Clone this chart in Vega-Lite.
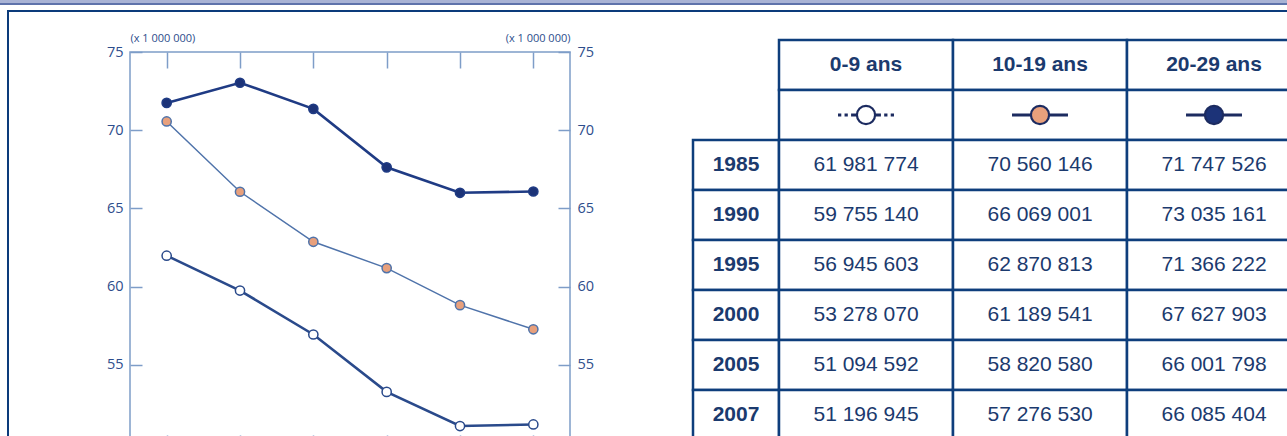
{
  "$schema": "https://vega.github.io/schema/vega-lite/v6.json",
  "padding": 0,
  "background": "#ffffff",
  "datasets": {
    "pop": [
      {"year": "1985", "group": "0-9 ans", "value": 61981774},
      {"year": "1990", "group": "0-9 ans", "value": 59755140},
      {"year": "1995", "group": "0-9 ans", "value": 56945603},
      {"year": "2000", "group": "0-9 ans", "value": 53278070},
      {"year": "2005", "group": "0-9 ans", "value": 51094592},
      {"year": "2007", "group": "0-9 ans", "value": 51196945},
      {"year": "1985", "group": "10-19 ans", "value": 70560146},
      {"year": "1990", "group": "10-19 ans", "value": 66069001},
      {"year": "1995", "group": "10-19 ans", "value": 62870813},
      {"year": "2000", "group": "10-19 ans", "value": 61189541},
      {"year": "2005", "group": "10-19 ans", "value": 58820580},
      {"year": "2007", "group": "10-19 ans", "value": 57276530},
      {"year": "1985", "group": "20-29 ans", "value": 71747526},
      {"year": "1990", "group": "20-29 ans", "value": 73035161},
      {"year": "1995", "group": "20-29 ans", "value": 71366222},
      {"year": "2000", "group": "20-29 ans", "value": 67627903},
      {"year": "2005", "group": "20-29 ans", "value": 66001798},
      {"year": "2007", "group": "20-29 ans", "value": 66085404}
    ],
    "groups": [{"group": "0-9 ans"}, {"group": "10-19 ans"}, {"group": "20-29 ans"}],
    "years": [{"year": "1985"}, {"year": "1990"}, {"year": "1995"}, {"year": "2000"}, {"year": "2005"}, {"year": "2007"}],
    "blank": [{}]
  },
  "bounds": "flush",
  "spacing": 0,
  "vconcat": [
    {"width": 1287, "height": 3, "data": {"name": "blank"}, "view": {"fill": "#a9b3d5"}, "mark": {"type": "rect", "color": "#a9b3d5"}, "encoding": {}},
    {"width": 1287, "height": 2, "data": {"name": "blank"}, "view": {"fill": "#5f73ab"}, "mark": {"type": "rect", "color": "#5f73ab"}, "encoding": {}},
    {"width": 1287, "height": 5, "data": {"name": "blank"}, "mark": {"type": "rect", "opacity": 0}, "encoding": {}},
    {
      "bounds": "flush",
      "spacing": 0,
      "hconcat": [
        {"width": 7, "height": 2, "data": {"name": "blank"}, "mark": {"type": "rect", "opacity": 0}, "encoding": {}},
        {"width": 2, "height": 430, "data": {"name": "blank"}, "view": {"fill": "#0c3b7b"}, "mark": {"type": "rect", "color": "#0c3b7b"}, "encoding": {}},
        {
          "bounds": "flush",
          "spacing": 0,
          "vconcat": [
            {"width": 1278, "height": 2, "data": {"name": "blank"}, "view": {"fill": "#0c3b7b"}, "mark": {"type": "rect", "color": "#0c3b7b"}, "encoding": {}},
            {"width": 1278, "height": 28, "data": {"name": "blank"}, "mark": {"type": "rect", "opacity": 0}, "encoding": {}},
            {
              "bounds": "flush",
              "spacing": 0,
              "hconcat": [
                {"width": 121, "height": 2, "data": {"name": "blank"}, "mark": {"type": "rect", "opacity": 0}, "encoding": {}},
                {
                  "width": 440,
                  "height": 411,
                  "data": {"name": "pop"},
                  "layer": [
                    {
                      "data": {"name": "blank"},
                      "mark": {"type": "rect", "fillOpacity": 0, "stroke": "#7e9dc8", "strokeWidth": 1.5},
                      "encoding": {
                        "y": {"datum": 75000000, "type": "quantitative", "axis": null},
                        "y2": {"datum": 49500000}
                      }
                    },
                    {
                      "transform": [{"filter": "datum.group != '10-19 ans'"}],
                      "mark": {"type": "line", "strokeWidth": 2.6},
                      "encoding": {
                        "x": {"field": "year", "type": "ordinal", "scale": {"type": "point", "padding": 0.5},
                          "axis": {"orient": "top", "offset": -12, "labels": false, "title": null, "domain": false, "tickColor": "#7e9dc8", "tickWidth": 1.5, "tickSize": -16, "grid": false}},
                        "y": {"field": "value", "type": "quantitative", "scale": {"domain": [49500000, 75767000], "nice": false, "zero": false},
                          "axis": {"orient": "left", "values": [55000000, 60000000, 65000000, 70000000, 75000000], "labelExpr": "datum.value / 1000000", "grid": false,
                            "domain": false, "tickColor": "#7e9dc8", "tickWidth": 1.5, "tickSize": -12, "labelPadding": 19,
                            "labelFont": "Open Sans", "labelFontSize": 14.5, "labelColor": "#2d4d8c",
                            "title": "(x 1 000 000)", "titleAngle": 0, "titleX": 0, "titleY": 1, "titleAlign": "left", "titleBaseline": "alphabetic",
                            "titleFont": "Open Sans", "titleFontSize": 11, "titleFontWeight": "normal", "titleColor": "#2d4d8c"}},
                        "stroke": {"field": "group", "type": "nominal", "scale": {"domain": ["0-9 ans", "10-19 ans", "20-29 ans"], "range": ["#2a4a8b", "#4f73aa", "#1f3b84"]}, "legend": null}
                      }
                    },
                    {
                      "transform": [{"filter": "datum.group == '10-19 ans'"}],
                      "mark": {"type": "line", "strokeWidth": 1.5},
                      "encoding": {
                        "x": {"field": "year", "type": "ordinal", "axis": null},
                        "y": {"field": "value", "type": "quantitative", "axis": null},
                        "stroke": {"field": "group", "type": "nominal", "legend": null}
                      }
                    },
                    {
                      "mark": {"type": "circle", "size": 85, "strokeWidth": 1.5, "opacity": 1},
                      "encoding": {
                        "x": {"field": "year", "type": "ordinal",
                          "axis": {"orient": "bottom", "labels": false, "title": null, "domain": false, "tickColor": "#7e9dc8", "tickWidth": 1.5, "tickSize": -16, "grid": false}},
                        "y": {"field": "value", "type": "quantitative",
                          "axis": {"orient": "right", "values": [55000000, 60000000, 65000000, 70000000, 75000000], "labelExpr": "datum.value / 1000000", "grid": false,
                            "domain": false, "tickColor": "#7e9dc8", "tickWidth": 1.5, "tickSize": -12, "labelPadding": 19,
                            "labelFont": "Open Sans", "labelFontSize": 14.5, "labelColor": "#2d4d8c",
                            "title": "(x 1 000 000)", "titleAngle": 0, "titleX": 0, "titleY": 1, "titleAlign": "right", "titleBaseline": "alphabetic",
                            "titleFont": "Open Sans", "titleFontSize": 11, "titleFontWeight": "normal", "titleColor": "#2d4d8c"}},
                        "fill": {"field": "group", "type": "nominal", "scale": {"domain": ["0-9 ans", "10-19 ans", "20-29 ans"], "range": ["#ffffff", "#e8a07c", "#1c3378"]}, "legend": null},
                        "stroke": {"field": "group", "type": "nominal", "legend": null}
                      }
                    }
                  ],
                  "resolve": {"axis": {"x": "independent", "y": "independent"}}
                },
                {"width": 123, "height": 2, "data": {"name": "blank"}, "mark": {"type": "rect", "opacity": 0}, "encoding": {}},
                {
                  "width": 86,
                  "height": 400,
                  "data": {"name": "years"},
                  "layer": [
                    {
                      "mark": {"type": "rect", "fill": "#ffffff", "stroke": "#0e3e7c", "strokeWidth": 2.5},
                      "encoding": {
                        "y": {"field": "year", "type": "nominal", "scale": {"domain": ["head", "sym", "1985", "1990", "1995", "2000", "2005", "2007"], "paddingInner": 0, "paddingOuter": 0}, "axis": null}
                      }
                    },
                    {
                      "mark": {"type": "text", "font": "Liberation Sans", "fontSize": 21, "fontWeight": "bold", "color": "#1b3a6e"},
                      "encoding": {
                        "y": {"field": "year", "type": "nominal", "axis": null},
                        "text": {"field": "year", "type": "nominal"}
                      }
                    }
                  ]
                },
                {
                  "width": 522,
                  "height": 400,
                  "layer": [
                    {
                      "data": {"name": "groups"},
                      "mark": {"type": "rect", "fill": "#ffffff", "stroke": "#0e3e7c", "strokeWidth": 2.5},
                      "encoding": {
                        "x": {"field": "group", "type": "nominal", "scale": {"domain": ["0-9 ans", "10-19 ans", "20-29 ans"], "paddingInner": 0, "paddingOuter": 0}, "axis": null},
                        "y": {"datum": "head", "type": "nominal", "scale": {"domain": ["head", "sym", "1985", "1990", "1995", "2000", "2005", "2007"], "paddingInner": 0, "paddingOuter": 0}, "axis": null}
                      }
                    },
                    {
                      "data": {"name": "groups"},
                      "mark": {"type": "rect", "fill": "#ffffff", "stroke": "#0e3e7c", "strokeWidth": 2.5},
                      "encoding": {
                        "x": {"field": "group", "type": "nominal", "axis": null},
                        "y": {"datum": "sym", "type": "nominal", "axis": null}
                      }
                    },
                    {
                      "data": {"name": "pop"},
                      "mark": {"type": "rect", "fill": "#ffffff", "stroke": "#0e3e7c", "strokeWidth": 2.5},
                      "encoding": {
                        "x": {"field": "group", "type": "nominal", "axis": null},
                        "y": {"field": "year", "type": "nominal", "axis": null}
                      }
                    },
                    {
                      "data": {"name": "groups"},
                      "mark": {"type": "text", "font": "Liberation Sans", "fontSize": 21, "fontWeight": "bold", "color": "#1b3a6e"},
                      "encoding": {
                        "x": {"field": "group", "type": "nominal", "axis": null},
                        "y": {"datum": "head", "type": "nominal", "axis": null},
                        "text": {"field": "group", "type": "nominal"}
                      }
                    },
                    {
                      "data": {"name": "groups"},
                      "mark": {"type": "point", "filled": false, "size": 348, "strokeWidth": 3, "color": "#1c2b60", "opacity": 1},
                      "encoding": {
                        "x": {"field": "group", "type": "nominal", "axis": null},
                        "y": {"datum": "sym", "type": "nominal", "axis": null},
                        "shape": {"field": "group", "type": "nominal", "legend": null,
                          "scale": {"domain": ["0-9 ans", "10-19 ans", "20-29 ans"],
                            "range": ["M-3,0H-2.65M-2.3,0H-1.95M-1.6,0H-0.9M0.9,0H1.6M1.95,0H2.3M2.65,0H3", "M-3,0H3", "M-3,0H3"]}}
                      }
                    },
                    {
                      "data": {"name": "groups"},
                      "mark": {"type": "circle", "size": 330, "stroke": "#1c2b60", "strokeWidth": 2.2, "opacity": 1},
                      "encoding": {
                        "x": {"field": "group", "type": "nominal", "axis": null},
                        "y": {"datum": "sym", "type": "nominal", "axis": null},
                        "fill": {"field": "group", "type": "nominal", "legend": null,
                          "scale": {"domain": ["0-9 ans", "10-19 ans", "20-29 ans"], "range": ["#ffffff", "#e39a78", "#1c2a5e"]}}
                      }
                    },
                    {
                      "data": {"name": "pop"},
                      "mark": {"type": "text", "font": "Liberation Sans", "fontSize": 21, "color": "#1b3a6e"},
                      "encoding": {
                        "x": {"field": "group", "type": "nominal", "axis": null},
                        "y": {"field": "year", "type": "nominal", "axis": null},
                        "text": {"field": "value", "type": "quantitative", "format": ",d"}
                      }
                    }
                  ]
                }
              ]
            }
          ]
        }
      ]
    }
  ],
  "config": {
    "view": {"stroke": null},
    "locale": {"number": {"decimal": ",", "thousands": " ", "grouping": [3], "currency": ["", " €"]}}
  }
}
